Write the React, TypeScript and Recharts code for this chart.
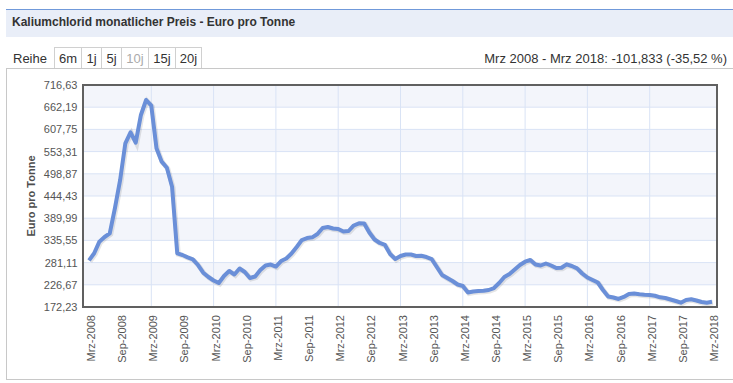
import React from 'react';
import { CartesianGrid, Line, LineChart, ReferenceLine, XAxis, YAxis } from 'recharts';

// Monatspreise Kaliumchlorid (Euro pro Tonne), Mrz 2008 .. Mrz 2018
const prices = [
  286.7, 303.9, 332.4, 343.9, 352.9, 415.0, 483.7, 573.7, 600.6, 575.1,
  643.1, 679.9, 665.9, 561.4, 528.6, 513.8, 467.3, 303.9, 299.8, 294.1,
  289.2, 275.2, 256.4, 245.8, 237.2, 231.1, 248.2, 260.5, 251.9, 266.6,
  258.1, 243.3, 247.0, 262.9, 274.0, 276.4, 271.5, 285.0, 291.2, 303.4,
  319.4, 336.5, 341.4, 343.1, 351.2, 365.9, 368.4, 364.7, 363.5, 357.4,
  358.6, 372.1, 377.5, 377.0, 354.9, 337.8, 329.2, 324.3, 302.2, 289.9,
  297.3, 301.0, 301.0, 297.3, 298.0, 294.8, 289.9, 270.3, 250.7, 243.3,
  236.0, 227.4, 223.7, 207.8, 210.2, 211.5, 211.9, 213.9, 218.8, 231.1,
  245.8, 253.1, 264.2, 275.2, 283.3, 287.5, 276.4, 274.0, 278.9, 274.0,
  267.9, 268.6, 276.9, 272.8, 267.1, 254.4, 244.6, 238.4, 232.3, 213.9,
  198.0, 195.5, 191.9, 196.8, 204.1, 205.3, 203.4, 202.4, 201.7, 199.9,
  196.0, 194.3, 190.6, 187.0, 182.8, 189.4, 191.1, 188.2, 184.5, 182.8,
  184.9,
];

const monthNames = ['Jan', 'Feb', 'Mrz', 'Apr', 'Mai', 'Jun', 'Jul', 'Aug', 'Sep', 'Okt', 'Nov', 'Dez'];
const startYear = 2008;
const startMonth = 2; // Mrz

const yTicks = [172.23, 226.67, 281.11, 335.55, 389.99, 444.43, 498.87, 553.31, 607.75, 662.19, 716.63];
const gridYears = [2009, 2010, 2011, 2012, 2013, 2014, 2015, 2016, 2017];
const rangeButtons = ['6m', '1j', '5j', '10j', '15j', '20j'];
const buttonWidths = [27, 20, 20, 27, 27, 27];
const disabledButton = '10j';

const title = 'Kaliumchlorid monatlicher Preis - Euro pro Tonne';
const summary = 'Mrz 2008 - Mrz 2018: -101,833 (-35,52 %)';

const data = prices.map((price, i) => {
  const m = startMonth + i;
  return { month: `${monthNames[m % 12]}-${startYear + Math.floor(m / 12)}`, price };
});

const font = '"Liberation Sans", Arial, sans-serif';
const gridColor = '#d9e3f5';

const fmt = (v: number) => v.toFixed(2).replace('.', ',');

const MonthTick = (props: any) => {
  const { x, y, payload } = props;
  return (
    <text
      x={x}
      y={y}
      dy={6}
      transform={`rotate(-90 ${x} ${y})`}
      textAnchor="end"
      fill="#555"
      fontSize={11}
      fontFamily={font}
    >
      {payload.value}
    </text>
  );
};

const YTitle = (props: any) => {
  const { x, y, height } = props.viewBox;
  const cx = x + 23;
  const cy = y + height / 2;
  return (
    <text
      x={cx}
      y={cy}
      dy={4}
      transform={`rotate(-90 ${cx} ${cy})`}
      textAnchor="middle"
      fill="#4d4d4d"
      fontSize={11}
      fontWeight="bold"
      fontFamily={font}
    >
      Euro pro Tonne
    </text>
  );
};

export default function App() {
  return (
    <div style={{ position: 'relative', width: 733, height: 383, background: '#fff', overflow: 'hidden', fontFamily: font }}>
      <style>{`body{margin:0} .line-shadow path{transform:translate(1px,1px)}`}</style>

      <div
        style={{
          position: 'absolute', left: 6, top: 9, width: 727, height: 28, boxSizing: 'border-box',
          background: '#e9eef8', borderTop: '1px solid #7099da',
        }}
      />
      <div style={{ position: 'absolute', left: 12, top: 9, height: 27, lineHeight: '27px', fontSize: 12, fontWeight: 'bold', color: '#333' }}>
        {title}
      </div>

      <div style={{ position: 'absolute', left: 13, top: 48, height: 21, lineHeight: '21px', fontSize: 13, color: '#333' }}>Reihe</div>
      <div style={{ position: 'absolute', left: 54, top: 47, display: 'flex' }}>
        {rangeButtons.map((b, i) => (
          <div
            key={b}
            style={{
              width: buttonWidths[i], height: 21, lineHeight: '21px', boxSizing: 'border-box', textAlign: 'center',
              fontSize: 13, color: b === disabledButton ? '#aaa' : '#333',
              borderTop: '1px solid #d0d0d0', borderLeft: '1px solid #d0d0d0',
              borderRight: i === rangeButtons.length - 1 ? '1px solid #d0d0d0' : 'none',
            }}
          >
            {b}
          </div>
        ))}
      </div>
      <div style={{ position: 'absolute', right: 6, top: 48, height: 21, lineHeight: '21px', fontSize: 13, color: '#333' }}>{summary}</div>

      <div
        style={{
          position: 'absolute', left: 6, top: 68, width: 727, height: 312, boxSizing: 'border-box',
          borderTop: '1px solid #c8c8c8', borderLeft: '1px solid #c8c8c8', borderBottom: '1px solid #c8c8c8',
        }}
      />

      <div style={{ position: 'absolute', left: 0, top: 0 }}>
        <LineChart width={733} height={383} data={data} margin={{ top: 85, right: 16, bottom: 16, left: 8 }}>
          <CartesianGrid vertical={false} stroke={gridColor} horizontalFill={['#f3f5fb', '#ffffff']} fillOpacity={1} />
          {gridYears.map((yr) => (
            <ReferenceLine key={yr} x={`Mrz-${yr}`} stroke={gridColor} strokeWidth={1} />
          ))}
          <XAxis
            dataKey="month"
            interval={5}
            height={60}
            padding={{ left: 6, right: 5 }}
            axisLine={false}
            tickLine={false}
            tick={<MonthTick />}
          />
          <YAxis
            type="number"
            domain={[172.23, 716.63]}
            ticks={yTicks}
            interval={0}
            width={75}
            axisLine={false}
            tickLine={false}
            tickSize={4}
            tickMargin={1.5}
            tickFormatter={fmt}
            tick={{ fill: '#555', fontSize: 11, fontFamily: font }}
            label={<YTitle />}
          />
          <Line
            className="line-shadow"
            dataKey="price"
            stroke="#000"
            strokeOpacity={0.1}
            strokeWidth={5}
            dot={false}
            activeDot={false}
            isAnimationActive={false}
          />
          <Line
            dataKey="price"
            stroke="#6a8fd8"
            strokeWidth={4}
            strokeLinejoin="round"
            dot={false}
            activeDot={false}
            isAnimationActive={false}
          />
        </LineChart>
      </div>

      <div
        style={{
          position: 'absolute', left: 82, top: 84, width: 636, height: 224, boxSizing: 'border-box',
          border: '2px solid #606060', pointerEvents: 'none',
        }}
      />
    </div>
  );
}
